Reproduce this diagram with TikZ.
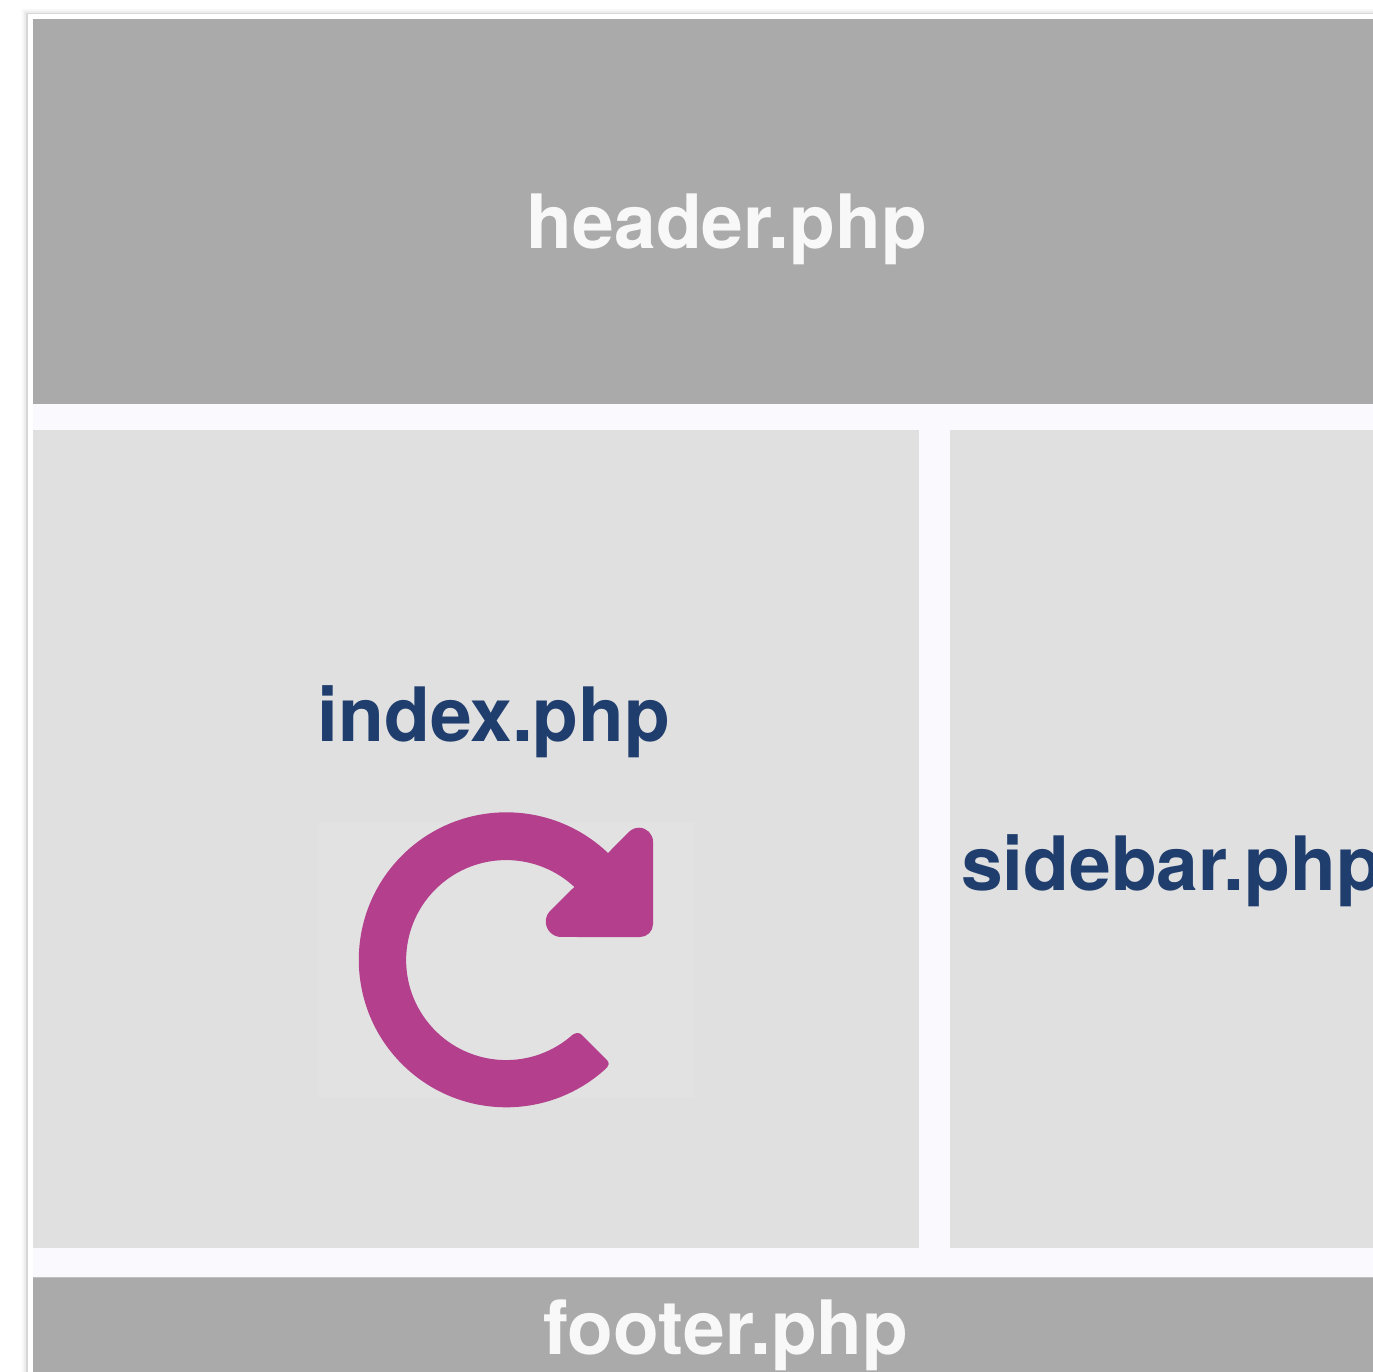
\documentclass[tikz,border=0pt]{standalone}
\usepackage{fontspec}
\setmainfont{TeX Gyre Heros}
\definecolor{gapc}{HTML}{F9F9FE}
\definecolor{darkc}{HTML}{AAAAAA}
\definecolor{lightc}{HTML}{E0E0E0}
\definecolor{boxc}{HTML}{E2E2E2}
\definecolor{navyc}{HTML}{1F3D6D}
\definecolor{pinkc}{HTML}{B33F8D}
\definecolor{whitec}{HTML}{F8F8F8}
\tikzset{
  panel/.style={fill=#1,draw=none},
  lab/.style={inner sep=0pt,outer sep=0pt,font=\fontsize{75}{80}\selectfont\bfseries,anchor=base,text=#1},
}
\begin{document}
\begin{tikzpicture}[x=1pt,y=-1pt]
\clip (0,0) rectangle (1373,1372);
\fill[white] (0,0) rectangle (1373,1372);
% paper shadow
\fill[black!3] (22,9) rectangle (1373,1372);
\fill[black!7] (24,11) rectangle (1373,1372);
\fill[black!16] (26,13) rectangle (1373,1372);
\fill[white] (28,14) rectangle (1373,1372);
\fill[gapc] (33,19) rectangle (1373,1372);
% panels
\fill[panel=darkc] (33,19) rectangle (1373,404);
\fill[panel=lightc] (33,430) rectangle (919,1248);
\fill[panel=lightc] (950,430) rectangle (1373,1248);
\fill[panel=darkc] (33,1278) rectangle (1373,1372);
\fill[black!25] (33,1276.5) rectangle (1373,1278);
\fill[panel=boxc] (318,823) rectangle (694,1097);
% icon
\fill[pinkc]
  (608,853)
  arc[start angle=-46.4,end angle=-311.4,radius=147.5]
  .. controls (610,1065) and (610,1063) .. (606,1059)
  -- (582,1035)
  .. controls (579,1032) and (575,1032) .. (570,1037)
  arc[start angle=50.3,end angle=313,radius=100]
  -- (550.3,910.7)
  arc[start angle=-135,end angle=-270,radius=15.4]
  -- (640,937)
  arc[start angle=90,end angle=0,radius=13]
  -- (653,841.7)
  arc[start angle=0,end angle=-135,radius=14]
  -- cycle;
% labels
\node[lab=whitec] (hdr) at (727,249) {header.php};
\node[lab=navyc] (idx) at (494,741) {index.php};
\node[lab=navyc,anchor=base west] (sb) at (961,890) {sidebar.php};
\node[lab=whitec] (ftr) at (726,1354) {footer.php};
\end{tikzpicture}
\end{document}
